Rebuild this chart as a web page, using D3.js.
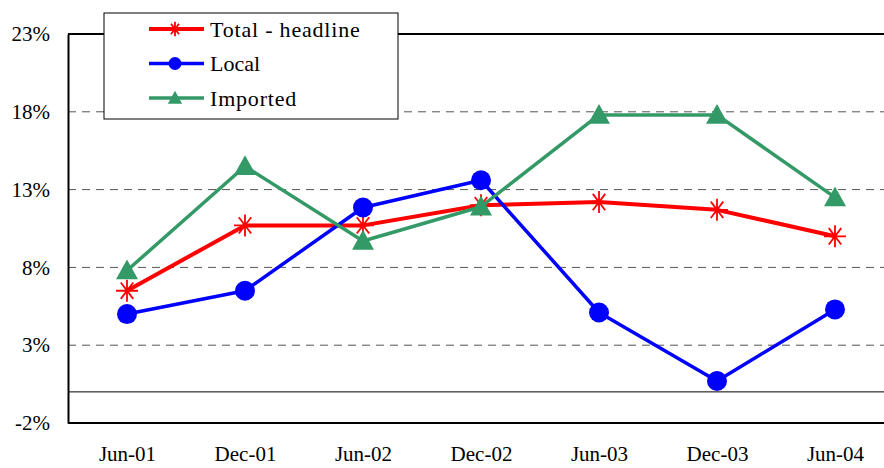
<!DOCTYPE html>
<html>
<head>
<meta charset="utf-8">
<script src="https://cdn.jsdelivr.net/npm/d3@7"></script>
</head>
<body style="margin:0">
<div class="chart"></div>
<script>
const periods = ['Jun-01', 'Dec-01', 'Jun-02', 'Dec-02', 'Jun-03', 'Dec-03', 'Jun-04'];
const total = [6.5, 10.7, 10.7, 12.0, 12.2, 11.7, 10.0];
const local = [5.0, 6.5, 11.85, 13.6, 5.1, 0.7, 5.3];
const imported = [7.8, 14.5, 9.7, 11.9, 17.8, 17.8, 12.5];
const yTicks = [-2, 3, 8, 13, 18, 23];

const width = 884;
const height = 468;
const plotLeft = 68, plotRight = 894, plotTop = 34, plotBottom = 423;
const serif = '"Liberation Serif"';

const svg = d3.select('.chart').append('svg')
  .attr('width', width)
  .attr('height', height);

const x = d3.scalePoint().domain(periods).range([plotLeft, plotRight]).padding(0.5);
const y = d3.scaleLinear().domain([-2, 23]).range([plotBottom, plotTop]);

// grid
svg.selectAll('.grid')
  .data(yTicks.filter(d => d > -2 && d < 23))
  .enter()
  .append('line')
  .attr('x1', plotLeft).attr('x2', width)
  .attr('y1', d => y(d)).attr('y2', d => y(d))
  .attr('stroke', '#555')
  .attr('stroke-width', 1)
  .attr('stroke-dasharray', '8,6');

// top border
svg.append('line')
  .attr('x1', plotLeft).attr('x2', width)
  .attr('y1', y(23)).attr('y2', y(23))
  .attr('stroke', '#000').attr('stroke-width', 2);

// zero line
svg.append('line')
  .attr('x1', plotLeft).attr('x2', width)
  .attr('y1', y(0)).attr('y2', y(0))
  .attr('stroke', '#000').attr('stroke-width', 1);

// y axis
const yAxis = svg.append('g')
  .attr('transform', `translate(${plotLeft},0)`)
  .call(d3.axisLeft(y).tickValues(yTicks).tickSize(0).tickPadding(18).tickFormat(d => d + '%'));
yAxis.attr('font-family', null).attr('font-size', null);
yAxis.select('.domain').attr('stroke', '#000').attr('stroke-width', 2);
yAxis.selectAll('text').style('font-size', '21px').style('font-family', serif).attr('fill', '#000');

// x axis
const xAxis = svg.append('g')
  .attr('transform', `translate(0,${plotBottom})`)
  .call(d3.axisBottom(x).tickSize(0).tickPadding(23));
xAxis.attr('font-family', null).attr('font-size', null);
xAxis.select('.domain').attr('d', `M${plotLeft},0H${width}`).attr('stroke', '#000').attr('stroke-width', 2);
xAxis.selectAll('text').style('font-size', '21px').style('font-family', serif).attr('fill', '#000');

const series = [
  {name: 'Total - headline', values: total, color: '#ff0000', width: 4, marker: 'star'},
  {name: 'Local', values: local, color: '#0000ff', width: 3.5, marker: 'circle'},
  {name: 'Imported', values: imported, color: '#339966', width: 3.5, marker: 'triangle'},
];

const line = d3.line().x((d, i) => x(periods[i])).y(d => y(d));

function drawMarker(g, type, color, cx, cy, s) {
  if (type === 'circle') {
    g.append('circle').attr('cx', cx).attr('cy', cy).attr('r', 10 * s).attr('fill', color);
  } else if (type === 'triangle') {
    const r = 11 * s;
    g.append('path')
      .attr('d', `M${cx},${cy - r}L${cx + r},${cy + r * 0.8}L${cx - r},${cy + r * 0.8}Z`)
      .attr('fill', color);
  } else {
    const r = 11 * s;
    const p = [];
    for (let k = 0; k < 4; k++) {
      const a = Math.PI / 4 * k;
      const dx = k % 2 ? r * 0.8 * Math.cos(a) : r * Math.cos(a);
      const dy = k % 2 ? r * 1.05 * Math.sin(a) : r * Math.sin(a);
      p.push(`M${cx - dx},${cy - dy}L${cx + dx},${cy + dy}`);
    }
    g.append('path').attr('d', p.join('')).attr('stroke', color).attr('stroke-width', 1.8).attr('fill', 'none');
  }
}

series.forEach(s => {
  svg.append('path')
    .datum(s.values)
    .attr('d', line)
    .attr('fill', 'none')
    .attr('stroke', s.color)
    .attr('stroke-width', s.width)
    .attr('stroke-linejoin', 'round');
  const g = svg.append('g');
  s.values.forEach((v, i) => drawMarker(g, s.marker, s.color, x(periods[i]), y(v), 1));
});

// legend
const lg = svg.append('g');
lg.append('rect')
  .attr('x', 104).attr('y', 13).attr('width', 294).attr('height', 106)
  .attr('fill', '#fff').attr('stroke', '#000').attr('stroke-width', 1);
series.forEach((s, i) => {
  const ly = 29 + i * 34.5;
  lg.append('line')
    .attr('x1', 149).attr('x2', 204).attr('y1', ly).attr('y2', ly)
    .attr('stroke', s.color).attr('stroke-width', s.width);
  drawMarker(lg, s.marker, s.color, 175, ly, 0.65);
  lg.append('text')
    .attr('x', 210).attr('y', ly).attr('dy', '0.35em')
    .style('font-size', '22px').style('font-family', serif)
    .style('letter-spacing', s.name === 'Local' ? '0px' : '0.8px')
    .text(s.name);
});
</script>
</body>
</html>
